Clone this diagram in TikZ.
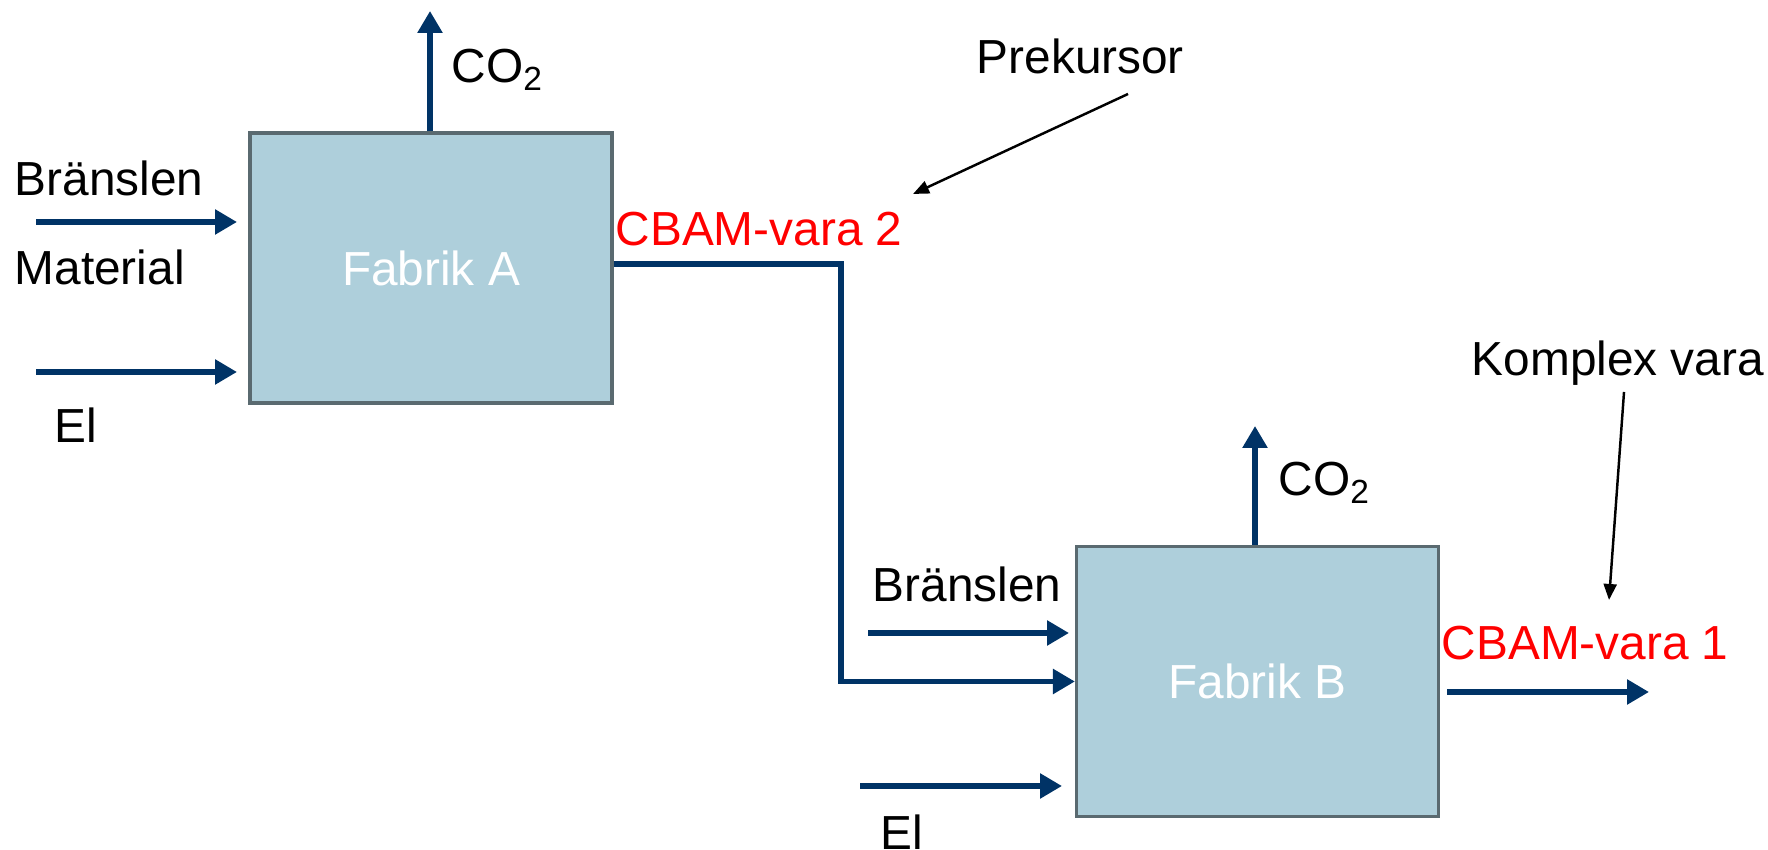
\documentclass[tikz,border=0pt]{standalone}
\usepackage{fontspec}
\setmainfont{Liberation Sans}
\usepackage{xcolor}
\usetikzlibrary{positioning,arrows.meta}

\definecolor{navy}{RGB}{0,51,102}
\definecolor{boxblue}{RGB}{174,207,219}
\definecolor{boxedge}{RGB}{90,106,112}

\begin{document}
\begin{tikzpicture}[
  font=\fontsize{13.6}{16}\selectfont,
  plant/.style={draw=boxedge, line width=0.9pt, fill=boxblue, minimum width=3.62cm, minimum height=2.7cm, text=white},
  lbl/.style={inner sep=0pt, anchor=west},
  good/.style={inner sep=0pt, anchor=west, text=red},
  flow/.style={draw=navy, line width=1.7pt, -{Triangle[length=2.2mm, width=2.4mm]}},
  note/.style={draw=black, line width=0.7pt, -{Triangle[length=1.6mm, width=1.3mm]}}]
\useasboundingbox (0,0) rectangle (17.68,8.5);
% plants
\node[plant] (fabA) at (4.31,5.82) {Fabrik A};
\node[plant] (fabB) at (12.575,1.685) {Fabrik B};
% labels
\node[lbl] (co2A) at (4.51,7.80) {CO\textsubscript{2}};
\node[lbl] (fuelA) at (0.14,6.72) {Bränslen};
\node[lbl] (matA) at (0.14,5.83) {Material};
\node[lbl] (elA) at (0.54,4.25) {El};
\node[good] (cbam2) at (6.15,6.21) {CBAM-vara 2};
\node[lbl] (co2B) at (12.78,3.67) {CO\textsubscript{2}};
\node[lbl] (fuelB) at (8.72,2.66) {Bränslen};
\node[lbl] (elB) at (8.80,0.18) {El};
\node[good] (cbam1) at (14.41,2.07) {CBAM-vara 1};
\node[lbl] (prek) at (9.76,7.94) {Prekursor};
\node[lbl] (komp) at (14.71,4.87) {Komplex vara};
% free ends
\coordinate (upA) at (4.30,8.39);
\coordinate (fuelAin) at (0.36,6.28);
\coordinate (fuelAend) at (2.37,6.28);
\coordinate (elAin) at (0.36,4.78);
\coordinate (elAend) at (2.37,4.78);
\coordinate (knee) at (8.41,5.86);
\coordinate (upB) at (12.55,4.24);
\coordinate (fuelBin) at (8.68,2.17);
\coordinate (fuelBend) at (10.69,2.17);
\coordinate (elBin) at (8.60,0.64);
\coordinate (elBend) at (10.62,0.64);
\coordinate (outB) at (14.47,1.58);
\coordinate (outBend) at (16.49,1.58);
\coordinate (prekfrom) at (11.28,7.56);
\coordinate (prekto) at (9.13,6.56);
\coordinate (kompfrom) at (16.24,4.58);
\coordinate (kompto) at (16.09,2.50);
% flows
\draw[flow] (fabA.north-|upA) -- (upA);
\draw[flow] (fuelAin) -- (fuelAend);
\draw[flow] (elAin) -- (elAend);
\draw[flow] (fabA.east|-knee) -- (knee) |- (fabB.west);
\draw[flow] (fabB.north-|upB) -- (upB);
\draw[flow] (fuelBin) -- (fuelBend);
\draw[flow] (elBin) -- (elBend);
\draw[flow] (outB) -- (outBend);
% notes
\draw[note] (prekfrom) -- (prekto);
\draw[note] (kompfrom) -- (kompto);
\end{tikzpicture}
\end{document}
